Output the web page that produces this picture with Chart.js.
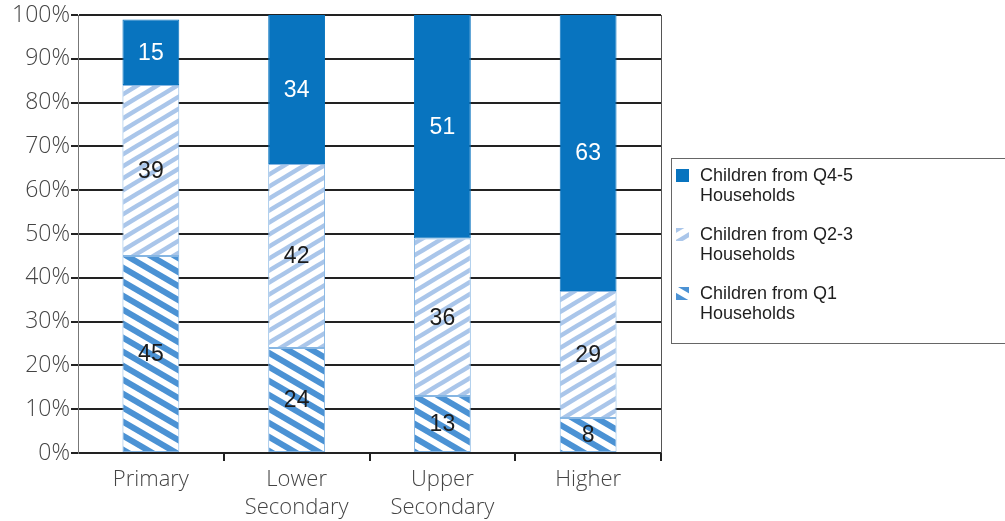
<!DOCTYPE html>
<html>
<head>
<meta charset="utf-8">
<script src="https://cdn.jsdelivr.net/npm/chart.js@4/dist/chart.umd.min.js"></script>
<style>
  body { margin: 0; background: #fff; }
</style>
</head>
<body>
<canvas id="myChart" width="1005" height="521"></canvas>
<script>
// categories and series (percent of children in each level)
const niveles = ["Primary", ["Lower", "Secondary"], ["Upper", "Secondary"], "Higher"];
const q1 = [45, 24, 13, 8];
const q23 = [39, 42, 36, 29];
const q45 = [15, 34, 51, 63];
const etiquetasSerie = [
  ["Children from Q1", "Households"],
  ["Children from Q2-3", "Households"],
  ["Children from Q4-5", "Households"],
];

// striped fill, dir "/" or "\\"
const rayas = (color, periodo, grosor, dir) => {
  const h = periodo, w = Math.round(periodo * 1.7);
  const c = document.createElement("canvas");
  c.width = w; c.height = h;
  const g = c.getContext("2d");
  g.fillStyle = "#fff";
  g.fillRect(0, 0, w, h);
  g.strokeStyle = color;
  g.lineWidth = grosor;
  for (let k = -2; k <= 2; k++) {
    const off = k * h;
    g.beginPath();
    if (dir === "/") { g.moveTo(-w, 2 * h + off); g.lineTo(2 * w, -h + off); }
    else { g.moveTo(-w, -h + off); g.lineTo(2 * w, 2 * h + off); }
    g.stroke();
  }
  return g.createPattern(c, "repeat");
};

const azul = "#0874bf";
const rayaQ1 = rayas("#4b92d4", 14, 6, "\\");
const rayaQ23 = rayas("#aac6ea", 12, 4.5, "/");
const colores = [rayaQ1, rayaQ23, azul];

const ctx = document.getElementById("myChart");

// numbers in the middle of each segment
const valores = {
  id: "valores",
  afterDatasetsDraw(chart) {
    const c = chart.ctx;
    c.save();
    c.font = "23px 'Liberation Sans', Arial, sans-serif";
    c.textAlign = "center";
    c.textBaseline = "middle";
    chart.data.datasets.forEach((ds, i) => {
      chart.getDatasetMeta(i).data.forEach((bar, j) => {
        c.fillStyle = i === 2 ? "#fff" : "#1c1c1c";
        c.fillText(ds.data[j], bar.x, (bar.y + bar.base) / 2 + 1);
      });
    });
    c.restore();
  },
};

// right frame line and boxed legend
const marco = {
  id: "marco",
  afterDraw(chart) {
    const c = chart.ctx;
    const a = chart.chartArea;
    c.save();
    c.strokeStyle = "#555";
    c.lineWidth = 1;
    c.beginPath();
    c.moveTo(a.right + 0.5, a.top);
    c.lineTo(a.right + 0.5, a.bottom);
    c.stroke();

    c.strokeStyle = "#666";
    c.strokeRect(671.5, 158.5, 345, 185);

    c.font = "18px 'Liberation Sans', Arial, sans-serif";
    c.textBaseline = "middle";
    c.textAlign = "left";
    [2, 1, 0].forEach((s, n) => {
      const y0 = 176 + n * 59;
      c.fillStyle = colores[s];
      c.fillRect(676, y0 - 7, 13, 13);
      c.fillStyle = "#1e1e1e";
      c.fillText(etiquetasSerie[s][0], 700, y0);
      c.fillText(etiquetasSerie[s][1], 700, y0 + 20);
    });
    c.restore();
  },
};

const fuenteEje = { family: "'Open Sans', 'Liberation Sans', sans-serif", weight: 300 };

new Chart(ctx, {
  type: "bar",
  data: {
    labels: niveles,
    datasets: [q1, q23, q45].map((d, i) => ({
      label: etiquetasSerie[i].join(" "),
      data: d,
      backgroundColor: colores[i],
      borderColor: i === 2 ? azul : "#86b6e3",
      borderWidth: 1,
      borderSkipped: false,
      categoryPercentage: 1,
      barPercentage: 0.39,
    })),
  },
  options: {
    responsive: false,
    animation: false,
    layout: { padding: { top: 15, right: 344, left: 0, bottom: 0 } },
    plugins: { legend: { display: false }, tooltip: { enabled: false } },
    scales: {
      x: {
        stacked: true,
        afterFit: (s) => { s.height = 68; },
        border: { display: false },
        grid: {
          drawOnChartArea: false,
          tickLength: 8,
          lineWidth: 2,
          color: (c) => (c.index === 0 || c.index === 4 ? "rgba(0,0,0,0)" : "#222"),
        },
        ticks: {
          color: "#444",
          padding: 5,
          font: { ...fuenteEje, size: 22, lineHeight: 1.25 },
        },
      },
      y: {
        stacked: true,
        min: 0,
        max: 100,
        afterFit: (s) => { s.width = 78; },
        border: { color: "#777", width: 1 },
        grid: { color: "#222", lineWidth: 2, tickLength: 7 },
        ticks: {
          stepSize: 10,
          color: "#444",
          padding: 1,
          font: { ...fuenteEje, size: 23 },
          callback: (v) => v + "%",
        },
      },
    },
  },
  plugins: [valores, marco],
});
</script>
</body>
</html>
